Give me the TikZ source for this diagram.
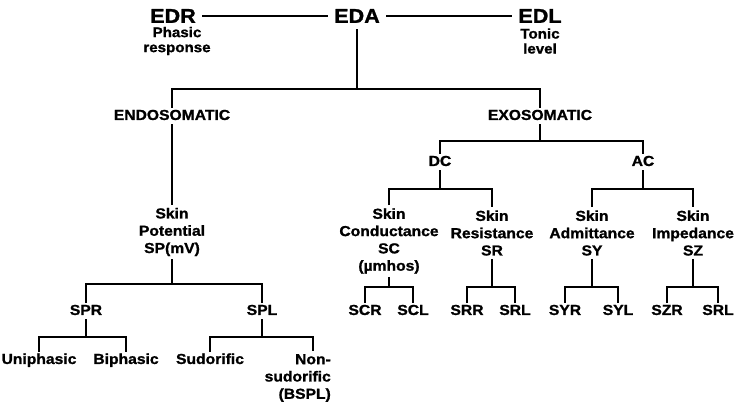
\documentclass[tikz,border=0pt]{standalone}
\usepackage{fontspec}
\setmainfont[FakeStretch=1.08, FakeBold=1.2]{Liberation Sans}
\usepackage{tikz}
\usetikzlibrary{positioning}

\begin{document}
\begin{tikzpicture}[x=1pt, y=-1pt,
  lbl/.style={font=\bfseries\fontsize{14.5}{17.3}\selectfont, align=center, inner sep=3pt},
  word/.style={lbl, text height=1.5ex, text depth=0pt, inner sep=4pt},
  big/.style={font=\bfseries\fontsize{20}{24}\selectfont, inner sep=6pt},
  note/.style={font=\bfseries\fontsize{14}{15}\selectfont, align=center, inner sep=0pt},
  tree/.style={line width=2.4pt}]
\useasboundingbox[fill=white] (0,0) rectangle (738,406);
% Top row
\node[big] (edr) at (173,16) {EDR};
\node[big] (eda) at (357,16) {EDA};
\node[big] (edl) at (540,16) {EDL};
\node[note] (phasic) at (177,41) {Phasic\\response};
\node[note] (tonic) at (540,41) {Tonic\\level};
\draw[tree] (edr) -- (eda);
\draw[tree] (eda) -- (edl);

% Second level
\node[word] (endo) at (172,116) {ENDOSOMATIC};
\node[word] (exo) at (540,116) {EXOSOMATIC};
\node[word] (dc) at (440,162) {DC};
\node[word] (ac) at (643,162) {AC};

% Skin measures
\node[lbl] (sp) at (172,232) {Skin\\Potential\\SP(mV)};
\node[lbl] (sc) at (389,241) {Skin\\Conductance\\SC\\(µmhos)};
\node[lbl] (sr) at (492,233) {Skin\\Resistance\\SR};
\node[lbl] (sy) at (592,233) {Skin\\Admittance\\SY};
\node[lbl] (sz) at (693,233) {Skin\\Impedance\\SZ};

% Response / level
\node[word] (spr) at (86,311) {SPR};
\node[word] (spl) at (262,311) {SPL};
\node[word] (scr) at (365,311) {SCR};
\node[word] (scl) at (413,311) {SCL};
\node[word] (srr) at (467,311) {SRR};
\node[word] (srl) at (515,311) {SRL};
\node[word] (syr) at (565,311) {SYR};
\node[word] (syl) at (618,311) {SYL};
\node[word] (szr) at (667,311) {SZR};
\node[word] (szl) at (718,311) {SRL};

% Bottom row
\node[word] (uni) at (39,360) {Uniphasic};
\node[word] (bi) at (126,360) {Biphasic};
\node[word] (sud) at (210,360) {Sudorific};
\node[lbl, align=right, anchor=east] (non) at (334,378) {Non-\\sudorific\\(BSPL)};

% Brackets
\draw[tree] (endo) -- (sp);
\foreach \p/\a/\b/\h in {eda/endo/exo/89, exo/dc/ac/141, dc/sc/sr/189, ac/sy/sz/189,
    sp/spr/spl/284, sc/scr/scl/287, sr/srr/srl/287, sy/syr/syl/287, sz/szr/szl/287,
    spr/uni/bi/337}
  \draw[tree] (\a) |- (\p |- 0,\h) -| (\b) (\p) -- (\p |- 0,\h);
\draw[tree] (sud) |- (spl |- 0,337) -| ([xshift=-21pt]non.north east) (spl) -- (spl |- 0,337);
\end{tikzpicture}
\end{document}
